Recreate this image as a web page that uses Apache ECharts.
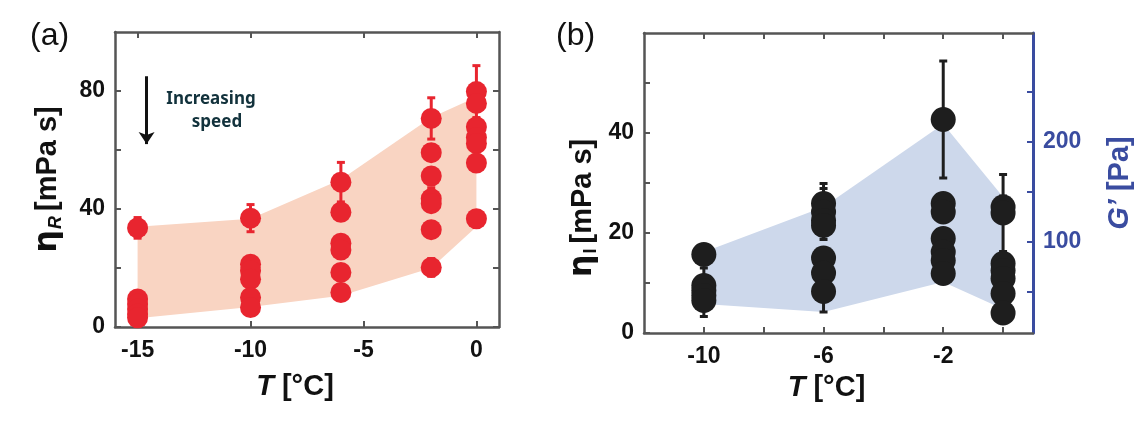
<!DOCTYPE html>
<html><head><meta charset="utf-8">
<script src="https://cdn.jsdelivr.net/npm/echarts@6/dist/echarts.min.js"></script>
<style>html,body{margin:0;padding:0;background:#fff}#c{width:1148px;height:424px}</style>
</head><body><div id="c"></div>
<script>
// ---------- Panel (a): eta_R vs T ----------
const aPointT   = [-15,-15,-15,-15,-15,-15, -10,-10,-10,-10,-10,-10, -6,-6,-6,-6,-6,-6, -2,-2,-2,-2,-2,-2,-2, 0,0,0,0,0,0,0];
const aPointEta = [33.6,9.5,7.8,6.1,4.4,3.1, 36.9,21.3,19.1,16.2,10.0,6.6, 49.1,38.9,28.4,26.1,18.5,11.7, 70.7,59.1,51.2,43.5,41.8,33.0,20.2, 79.8,75.8,67.8,64.2,62.2,55.6,36.7];
const aPointErr = [3.5,0,0,0,0,0, 4.6,0,0,0,0,0, 6.7,0,0,0,0,0, 7.0,0,0,3.7,0,0,3.0, 8.8,0,0,0,0,0,0];
const aBandT     = [-15,-10,-6,-2,0];
const aBandUpper = [34.0,36.7,50.0,71.0,78.0];
const aBandLower = [3.0,6.8,10.6,20.0,34.0];
const aXTicks = [-15,-10,-5,0];
const aYTicks = [0,20,40,60,80];
const aYLabels = [0,40,80];

// ---------- Panel (b): eta_I vs T, G' band ----------
const bPointT   = [-10,-10,-10,-10,-10, -6,-6,-6,-6,-6,-6,-6, -2,-2,-2,-2,-2,-2,-2, 0,0,0,0,0,0,0];
const bPointEta = [15.7,9.5,8.5,7.5,6.5, 25.9,24.2,22.5,21.5,15.0,12.0,8.3, 42.7,25.9,24.2,18.9,16.2,14.5,11.9, 25.2,24.0,13.9,12.5,10.9,7.9,4.0];
const bPointErr = [0,3.5,0,0,3.2, 4.0,4.7,0,2.8,0,0,4.1, 11.7,2.0,0,0,0,0,0, 2.2,7.7,2.1,0,0,0,0];
const bBandT     = [-10,-6,-2,0];
const bBandUpper = [90,135,218,145];   // G' [Pa]
const bBandLower = [38,30,60,33];      // G' [Pa]
const bXTicks = [-10,-8,-6,-4,-2,0];
const bXLabels = [-10,-6,-2];
const bYTicks = [0,10,20,30,40,50];
const bYLabels = [0,20,40];
const bGTicks = [50,100,150,200,250];
const bGLabels = [100,200];

const FONT = 'Liberation Sans, Arial, sans-serif';
const AX = '#555555';
const RED = '#e8252f';
const BLK = '#1e1e1e';
const BLUE = '#3a4ca0';

function pts(T, Y, E){ return T.map((t,i)=>[t, Y[i], E[i]]); }

function bandSeries(xi, yi, T, U, L, color){
  return {
    type:'custom', xAxisIndex:xi, yAxisIndex:yi, z:1, silent:true,
    data:[[0]],
    renderItem:function(params, api){
      const p=[];
      for(let i=0;i<T.length;i++) p.push(api.coord([T[i],U[i]]));
      for(let i=T.length-1;i>=0;i--) p.push(api.coord([T[i],L[i]]));
      return {type:'polygon', shape:{points:p}, style:{fill:color}};
    }
  };
}
function errSeries(xi, yi, data, color, cap){
  return {
    type:'custom', xAxisIndex:xi, yAxisIndex:yi, z:3, silent:true,
    data:data.filter(d=>d[2]>0),
    renderItem:function(params, api){
      const x=api.value(0), y=api.value(1), e=api.value(2);
      const a=api.coord([x,y+e]), b=api.coord([x,y-e]);
      const st={stroke:color, lineWidth:3};
      return {type:'group', children:[
        {type:'line', shape:{x1:a[0],y1:a[1],x2:b[0],y2:b[1]}, style:st},
        {type:'line', shape:{x1:a[0]-cap,y1:a[1],x2:a[0]+cap,y2:a[1]}, style:st},
        {type:'line', shape:{x1:b[0]-cap,y1:b[1],x2:b[0]+cap,y2:b[1]}, style:st}
      ]};
    }
  };
}
function baseX(grid, min, max, ticks, labels, pos, name, nameGap, fs){
  return {
    type:'value', gridIndex:grid, min:min, max:max, position:pos,
    axisLine:{show:true, onZero:false, lineStyle:{color:AX, width:2.5}},
    axisTick:{show:true, inside:true, length:6, customValues:ticks, lineStyle:{color:AX, width:2}},
    axisLabel:{show:!!labels, customValues:labels||[], fontSize:fs||23, fontWeight:'bold', color:'#111', fontFamily:FONT, margin:12},
    splitLine:{show:false},
    name:name||'', nameLocation:'middle', nameGap:nameGap||0,
    nameTextStyle:{fontFamily:FONT, padding:[0,24,0,0],
      rich:{i:{fontStyle:'italic', fontWeight:'bold', fontSize:29, fontFamily:FONT, color:'#111'},
            n:{fontWeight:'bold', fontSize:29, fontFamily:FONT, color:'#111'}}}
  };
}
function baseY(grid, min, max, ticks, labels, pos, color, name, nameGap, rich, pad, fs){
  return {
    type:'value', gridIndex:grid, min:min, max:max, position:pos,
    axisLine:{show:true, onZero:false, lineStyle:{color:color, width:pos==='right'&&color!==AX?3:2.5}},
    axisTick:{show:true, inside:true, length:6, customValues:ticks, lineStyle:{color:color, width:2}},
    axisLabel:{show:!!labels, customValues:labels||[], fontSize:fs||23, fontWeight:'bold', color:color===AX?'#111':color, fontFamily:FONT, margin:10},
    splitLine:{show:false},
    name:name||'', nameLocation:'middle', nameGap:nameGap||0, nameRotate:90,
    nameTextStyle:{fontFamily:FONT, rich:rich||{}, padding:pad||0}
  };
}

const richEta = (subItalic)=>({
  e:{fontWeight:'bold', fontSize:32, fontFamily:'DejaVu Sans, sans-serif', color:'#111'},
  s:{fontWeight:'bold', fontStyle:subItalic?'italic':'normal', fontSize:18, fontFamily:FONT, color:'#111', verticalAlign:'bottom', padding:[16,0,0,1]},
  n:{fontWeight:'bold', fontSize:29, fontFamily:FONT, color:'#111'}
});
const richG = {
  g:{fontWeight:'bold', fontStyle:'italic', fontSize:29, fontFamily:FONT, color:BLUE},
  n:{fontWeight:'bold', fontSize:29, fontFamily:FONT, color:BLUE}
};

const option = {
  animation:false,
  backgroundColor:'#ffffff',
  grid:[
    {left:115, top:32, width:384, height:295, show:false},
    {left:644, top:33, width:389, height:300, show:false}
  ],
  xAxis:[
    baseX(0,-16,1,aXTicks,aXTicks,'bottom','{i|T }{n|[°C]}',45),
    baseX(0,-16,1,aXTicks,null,'top'),
    baseX(1,-12,1,bXTicks,bXLabels,'bottom','{i|T }{n|[°C]}',40,23),
    baseX(1,-12,1,bXTicks,null,'top')
  ],
  yAxis:[
    baseY(0,0,100,aYTicks,aYLabels,'left',AX,'{e|η}{s|R }{n|[mPa s]}',50,richEta(true)),
    baseY(0,0,100,aYTicks,null,'right',AX),
    baseY(1,0,60,bYTicks,bYLabels,'left',AX,'{e|η}{s|I }{n|[mPa s]}',44,richEta(false),[0,50,0,0],23),
    baseY(1,9,309,bGTicks,bGLabels,'right',BLUE,"{g|G’ }{n|[Pa]}",72,richG,0,23)
  ],
  series:[
    bandSeries(0,0,aBandT,aBandUpper,aBandLower,'#f9d4c2'),
    errSeries(0,0,pts(aPointT,aPointEta,aPointErr),RED,4),
    {type:'scatter', xAxisIndex:0, yAxisIndex:0, z:4, symbol:'circle', symbolSize:21,
     itemStyle:{color:RED, opacity:1}, data:aPointT.map((t,i)=>[t,aPointEta[i]]),
     markLine:{silent:true, symbol:['none','arrow'], symbolSize:[12,12], label:{show:false},
       lineStyle:{color:'#111', width:3, type:'solid'},
       data:[[{coord:[-14.6,85]},{coord:[-14.6,62]}]]}
    },
    bandSeries(3,3,bBandT,bBandUpper,bBandLower,'#cdd8eb'),
    errSeries(2,2,pts(bPointT,bPointEta,bPointErr),BLK,4),
    {type:'scatter', xAxisIndex:2, yAxisIndex:2, z:4, symbol:'circle', symbolSize:25,
     itemStyle:{color:BLK, opacity:1}, data:bPointT.map((t,i)=>[t,bPointEta[i]])}
  ],
  graphic:[
    {type:'text', left:30, top:20, style:{text:'(a)', font:'32px '+FONT, fill:'#111'}},
    {type:'text', left:556, top:20, style:{text:'(b)', font:'32px '+FONT, fill:'#111'}},
    {type:'text', x:211, y:99, style:{text:'Increasing', font:'bold 17px "Noto Sans", sans-serif', fill:'#12323c', align:'center', verticalAlign:'middle'}},
    {type:'text', x:217, y:122, style:{text:'speed', font:'bold 17px "Noto Sans", sans-serif', fill:'#12323c', align:'center', verticalAlign:'middle'}}
  ]
};
const chart = echarts.init(document.getElementById('c'), null, {renderer:'canvas'});
chart.setOption(option);
</script>
</body></html>
